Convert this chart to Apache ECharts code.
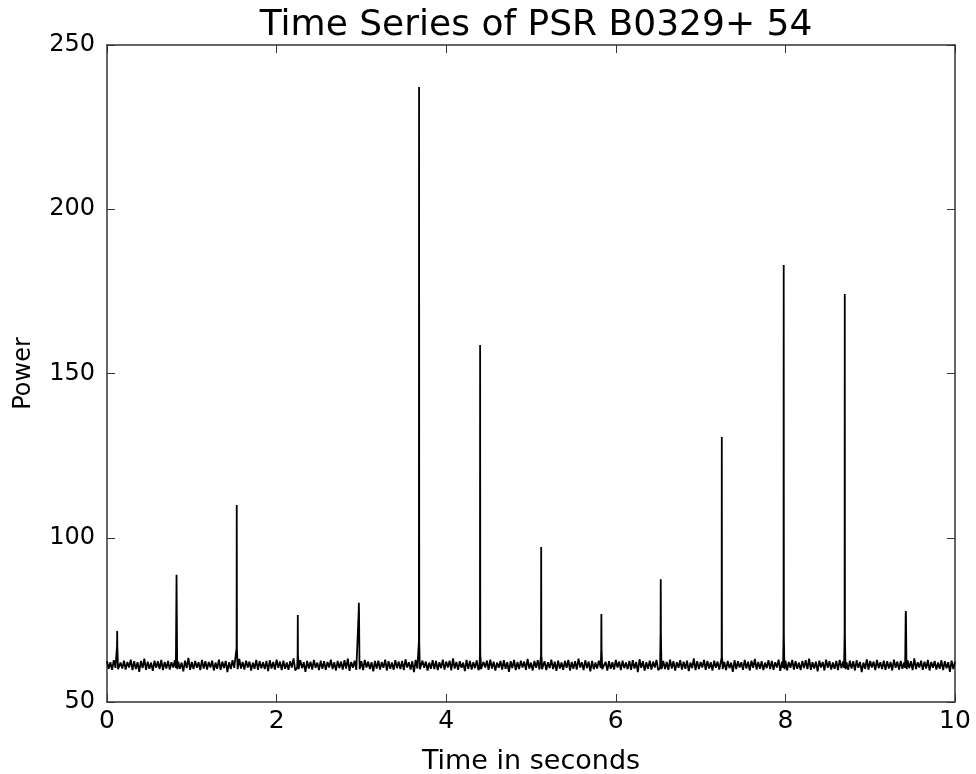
<!DOCTYPE html>
<html>
<head>
<meta charset="utf-8">
<script src="https://cdn.jsdelivr.net/npm/echarts@6/dist/echarts.min.js"></script>
<style>
  html, body { margin: 0; padding: 0; background: #fff; }
  #chart { width: 976px; height: 774px; }
</style>
</head>
<body>
<div id="chart"></div>
<script>
// noise floor, read as the upper and lower edges of the band
// upper edge: one sample every 0.04 s from 0 to 10 s
const baseStep = 0.04;
const noiseUpper = [
  62.4, 62.1, 62.7, 62.3, 62.0, 62.6, 62.2, 62.9, 62.4, 62.1,
  62.5, 63.2, 62.3, 62.0, 62.6, 62.4, 62.8, 62.2, 62.5, 62.1,
  62.7, 62.3, 62.0, 62.6, 63.4, 62.2, 62.5, 62.1, 62.8, 62.4,
  62.2, 62.6, 62.0, 62.9, 62.3, 62.5, 62.1, 62.7, 62.4, 63.1,
  62.2, 62.6, 62.3, 62.0, 62.8, 62.4, 62.1, 62.5, 62.7, 62.2,
  62.9, 62.3, 62.6, 62.0, 62.4, 63.3, 62.2, 62.7, 62.1, 62.5,
  62.3, 62.8, 62.0, 62.6, 62.4, 62.2, 62.9, 62.1, 62.5, 62.3,
  62.7, 63.2, 62.2, 62.6, 62.0, 62.4, 62.8, 62.3, 62.1, 62.5,
  62.6, 62.2, 62.9, 62.4, 62.0, 62.7, 62.3, 62.5, 63.0, 62.1,
  62.4, 62.8, 62.2, 62.6, 62.3, 62.0, 62.7, 62.5, 62.1, 62.9,
  62.3, 62.6, 63.3, 62.2, 62.4, 62.0, 62.8, 62.5, 62.1, 62.7,
  62.4, 62.2, 62.6, 62.9, 62.3, 62.0, 62.5, 62.7, 62.1, 62.4,
  62.8, 62.2, 62.6, 62.3, 63.1, 62.0, 62.5, 62.7, 62.2, 62.4,
  62.1, 62.9, 62.3, 62.6, 62.0, 62.5, 62.8, 62.2, 62.4, 63.2,
  62.1, 62.7, 62.3, 62.5, 62.0, 62.6, 62.9, 62.2, 62.4, 62.1,
  62.8, 62.3, 62.6, 62.0, 62.5, 62.7, 62.2, 63.0, 62.4, 62.1,
  62.6, 62.3, 62.8, 62.0, 62.5, 62.2, 62.9, 62.4, 62.1, 62.7,
  62.3, 62.6, 62.0, 63.3, 62.4, 62.2, 62.8, 62.5, 62.1, 62.6,
  62.3, 62.9, 62.2, 62.5, 62.0, 62.7, 62.4, 62.1, 62.8, 62.3,
  62.6, 63.1, 62.2, 62.4, 62.0, 62.7, 62.5, 62.1, 62.9, 62.3,
  62.6, 62.2, 62.8, 62.4, 62.0, 62.5, 62.7, 63.2, 62.1, 62.3,
  62.6, 62.2, 62.9, 62.4, 62.0, 62.5, 62.8, 62.3, 62.1, 62.6,
  62.4, 62.7, 62.2, 62.0, 63.0, 62.5, 62.3, 62.8, 62.1, 62.6,
  62.4, 62.2, 62.9, 62.3, 62.5, 62.0, 62.7, 62.4, 63.3, 62.1,
  62.6, 62.3, 62.8, 62.2, 62.5, 62.0, 62.7, 62.4, 62.1, 62.6,
  62.3
];
// lower edge: in between, at 0.02 s + n * 0.04 s
const noiseLower = [
  60.1, 59.8, 60.4, 59.6, 60.2, 59.9, 60.5, 59.7, 60.0, 59.2,
  60.3, 59.8, 60.1, 59.5, 60.4, 60.0, 59.7, 60.2, 59.9, 60.5,
  59.6, 60.1, 59.3, 60.3, 59.8, 60.0, 60.4, 59.7, 60.2, 59.9,
  60.5, 59.6, 60.1, 59.8, 60.3, 59.1, 60.0, 60.4, 59.7, 60.2,
  59.9, 60.5, 59.6, 60.1, 59.8, 60.3, 60.0, 59.4, 60.2, 59.9,
  60.4, 59.7, 60.1, 59.8, 60.5, 59.6, 60.0, 60.3, 59.2, 60.2,
  59.9, 60.4, 59.7, 60.1, 59.8, 60.5, 60.0, 59.6, 60.3, 59.9,
  60.2, 59.5, 60.4, 59.8, 60.1, 59.7, 60.5, 60.0, 59.3, 60.2,
  59.9, 60.4, 59.6, 60.1, 59.8, 60.3, 60.0, 59.7, 60.5, 59.9,
  59.1, 60.2, 59.8, 60.4, 59.6, 60.1, 60.0, 59.7, 60.3, 59.9,
  60.5, 59.6, 60.2, 59.8, 60.4, 59.4, 60.1, 59.9, 60.3, 59.7,
  60.0, 60.5, 59.8, 60.2, 59.6, 60.4, 59.9, 60.1, 59.2, 60.3,
  59.7, 60.0, 60.5, 59.8, 60.2, 59.6, 60.4, 59.9, 60.1, 59.7,
  60.3, 60.0, 59.5, 60.2, 59.8, 60.4, 59.6, 60.1, 59.9, 60.5,
  59.7, 60.3, 59.3, 60.0, 60.2, 59.8, 60.4, 59.6, 60.1, 59.9,
  60.5, 59.7, 60.3, 60.0, 59.8, 60.2, 59.1, 60.4, 59.6, 60.1,
  59.9, 60.5, 59.7, 60.3, 60.0, 59.8, 60.2, 59.6, 60.4, 59.9,
  60.1, 59.4, 60.3, 59.7, 60.0, 60.5, 59.8, 60.2, 59.6, 60.4,
  59.9, 60.1, 59.7, 60.3, 59.2, 60.0, 60.5, 59.8, 60.2, 59.6,
  60.4, 59.9, 60.1, 59.7, 60.3, 60.0, 59.8, 60.5, 59.5, 60.2,
  59.6, 60.4, 59.9, 60.1, 59.7, 60.3, 60.0, 59.8, 60.2, 59.3,
  60.5, 59.6, 60.4, 59.9, 60.1, 59.7, 60.3, 60.0, 59.8, 60.2,
  59.6, 60.4, 59.1, 60.1, 59.9, 60.5, 59.7, 60.3, 60.0, 59.8,
  60.2, 59.6, 60.4, 59.9, 60.1, 59.4, 60.3, 59.7, 60.0, 60.5,
  59.8, 60.2, 59.6, 60.4, 59.9, 60.1, 59.7, 60.3, 59.2, 60.0
];

// pulses: arrival time (s), peak power, secondary component
const pulseTimes = [0.12, 0.82, 1.53, 2.25, 2.97, 3.68, 4.40, 5.12, 5.83, 6.53, 7.25, 7.98, 8.70, 9.42];
const pulsePeaks = [71.6, 88.7, 110, 76.5, 80.2, 237.2, 158.7, 97.2, 76.8, 87.4, 130.7, 183, 174.2, 77.7];
const pulseShoulders = [67, 81, 66.5, 64, 77.5, 68.5, 64.5, 64, 66, 71, 63.5, 70, 70.5, 76];

function buildSeries() {
  const pts = noiseUpper.map((v, i) => [+(i * baseStep).toFixed(3), v]);
  noiseLower.forEach((v, i) => pts.push([+(i * baseStep + baseStep / 2).toFixed(3), v]));
  // keep noise samples clear of pulse windows
  const clean = pts.filter((p) => !pulseTimes.some((t) => Math.abs(p[0] - t) < 0.012));
  pulseTimes.forEach((t, i) => {
    clean.push([t - 0.008, 60.4]);
    clean.push([t - 0.002, pulseShoulders[i]]);
    clean.push([t, pulsePeaks[i]]);
    clean.push([t + 0.002, pulseShoulders[i]]);
    clean.push([t + 0.007, 62.6]);
    clean.push([t + 0.010, 60.0]);
  });
  return clean.sort((a, b) => a[0] - b[0]);
}

const axisColor = "#333";
const fontFamily = "DejaVu Sans, sans-serif";

const chart = echarts.init(document.getElementById("chart"), null, { renderer: "canvas" });
chart.setOption({
  animation: false,
  backgroundColor: "#fff",
  title: {
    text: "Time Series of PSR B0329+ 54",
    left: 531,
    textAlign: "center",
    top: 3,
    textStyle: { fontFamily, fontSize: 36, fontWeight: "normal", color: "#000" },
  },
  grid: { left: 107, right: 21, top: 45, bottom: 72, containLabel: false, outerBoundsMode: "none" },
  xAxis: [
    {
      type: "value", min: 0, max: 10, interval: 2,
      name: "Time in seconds", nameLocation: "middle", nameGap: 46,
      nameTextStyle: { fontFamily, fontSize: 27, color: "#000" },
      axisLine: { onZero: false, lineStyle: { color: axisColor, width: 1.5 } },
      axisTick: { inside: true, length: 8, lineStyle: { color: axisColor } },
      axisLabel: { fontFamily, fontSize: 25, color: "#000", margin: 7 },
      splitLine: { show: false },
    },
    {
      type: "value", min: 0, max: 10, interval: 2, position: "top",
      axisLine: { onZero: false, lineStyle: { color: axisColor, width: 1.5 } },
      axisTick: { inside: true, length: 8, lineStyle: { color: axisColor } },
      axisLabel: { show: false },
      splitLine: { show: false },
    },
  ],
  yAxis: [
    {
      type: "value", min: 50, max: 250, interval: 50,
      name: "Power", nameLocation: "middle", nameGap: 71, nameRotate: 90,
      nameTextStyle: { fontFamily, fontSize: 24, color: "#000" },
      axisLine: { show: true, onZero: false, lineStyle: { color: axisColor, width: 1.5 } },
      axisTick: { show: true, inside: true, length: 8, lineStyle: { color: axisColor } },
      axisLabel: { fontFamily, fontSize: 24, color: "#000", margin: 12 },
      splitLine: { show: false },
    },
    {
      type: "value", min: 50, max: 250, interval: 50, position: "right",
      axisLine: { show: true, onZero: false, lineStyle: { color: axisColor, width: 1.5 } },
      axisTick: { show: true, inside: true, length: 8, lineStyle: { color: axisColor } },
      axisLabel: { show: false },
      splitLine: { show: false },
    },
  ],
  series: [{
    type: "line",
    data: buildSeries(),
    showSymbol: false,
    sampling: false,
    lineStyle: { color: "#000", width: 1.8 },
    z: 1,
  }],
});
</script>
</body>
</html>
